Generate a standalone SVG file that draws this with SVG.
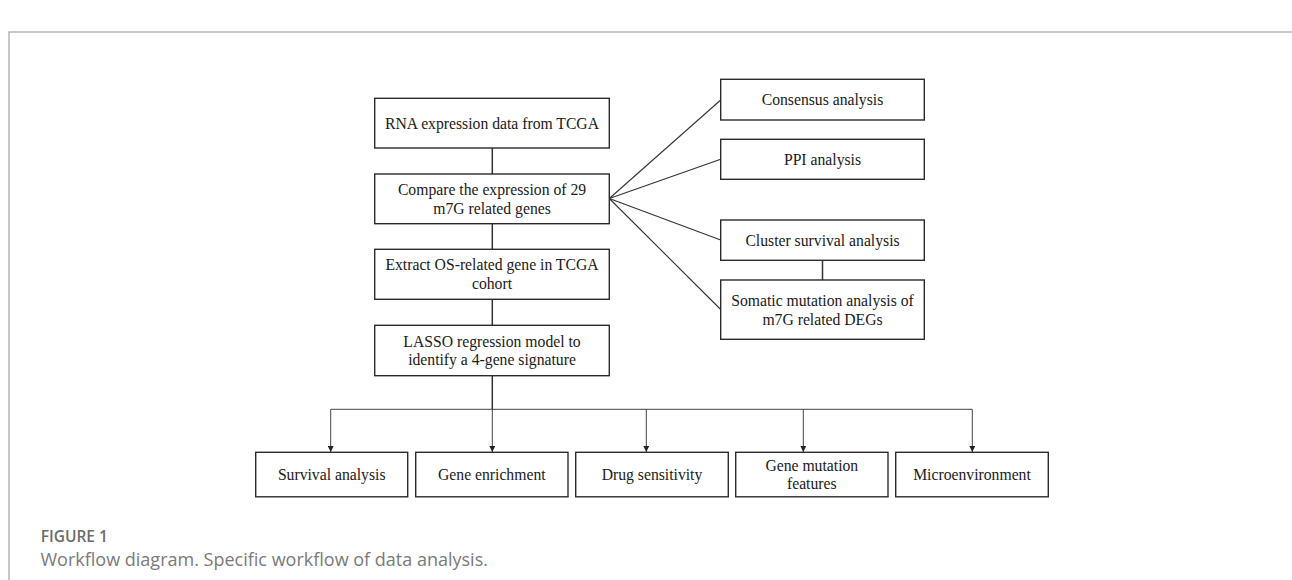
<svg xmlns="http://www.w3.org/2000/svg" width="1292" height="580" viewBox="0 0 1292 580">
<style>
.frame{stroke:#b5b5b5;stroke-width:1.5;fill:none}
.box{fill:#fff;stroke:#2b2b2b;stroke-width:1.4}
.t{font-family:"Liberation Serif","Times New Roman",serif;font-size:15.7px;fill:#1a1a1a;text-anchor:middle}
.c{stroke:#333;stroke-width:1.1;fill:none}
.trunk{stroke:#333;stroke-width:1.5;fill:none}
.arr{stroke:#444;stroke-width:1;fill:none}
.cap1{font-family:"Open Sans","Noto Sans",sans-serif;font-size:15.5px;font-weight:600;fill:#6b6b6b}
.cap2{font-family:"Open Sans","Noto Sans",sans-serif;font-size:18px;fill:#7a7a7a}
</style>
<defs>
<marker id="ah" viewBox="0 0 10 10" refX="10" refY="5" markerWidth="6" markerHeight="6" markerUnits="userSpaceOnUse" orient="auto">
<path d="M0,0 L10,5 L0,10 Z" fill="#222"/>
</marker>
</defs>
<path class="frame" d="M9,580 V32 H1292"/>

<g id="connectors">
<line class="trunk" x1="492.3" y1="148" x2="492.3" y2="174"/>
<line class="trunk" x1="492.3" y1="223.7" x2="492.3" y2="249.3"/>
<line class="trunk" x1="492.3" y1="299.3" x2="492.3" y2="325.3"/>
<line class="trunk" x1="492.3" y1="375.7" x2="492.3" y2="409.3"/>
<line class="c" x1="609.3" y1="198.5" x2="720.7" y2="100"/>
<line class="c" x1="609.3" y1="198.5" x2="720.7" y2="159.3"/>
<line class="c" x1="609.3" y1="198.5" x2="720.7" y2="240"/>
<line class="c" x1="609.3" y1="198.5" x2="720.7" y2="309.5"/>
<line class="trunk" x1="822.5" y1="260.3" x2="822.5" y2="280"/>
<line class="arr" x1="330.7" y1="409.3" x2="972.3" y2="409.3"/>
<line class="arr" x1="330.7" y1="409.3" x2="330.7" y2="452" marker-end="url(#ah)"/>
<line class="arr" x1="492.3" y1="409.3" x2="492.3" y2="452" marker-end="url(#ah)"/>
<line class="arr" x1="646.3" y1="409.3" x2="646.3" y2="452" marker-end="url(#ah)"/>
<line class="arr" x1="803.3" y1="409.3" x2="803.3" y2="452" marker-end="url(#ah)"/>
<line class="arr" x1="972.3" y1="409.3" x2="972.3" y2="452" marker-end="url(#ah)"/>
</g>

<g id="rna">
<rect class="box" x="374.7" y="98.3" width="234.6" height="49.7"/>
<text class="t" x="492" y="128.6">RNA expression data from TCGA</text>
</g>
<g id="compare">
<rect class="box" x="374.7" y="174" width="234.6" height="49.7"/>
<text class="t" x="492" y="195.3">Compare the expression of 29</text>
<text class="t" x="492" y="213.8">m7G related genes</text>
</g>
<g id="extract">
<rect class="box" x="374.7" y="249.3" width="234.6" height="50"/>
<text class="t" x="492" y="270.4">Extract OS-related gene in TCGA</text>
<text class="t" x="492" y="288.9">cohort</text>
</g>
<g id="lasso">
<rect class="box" x="374.7" y="325.3" width="234.6" height="50.4"/>
<text class="t" x="492" y="346.7">LASSO regression model to</text>
<text class="t" x="492" y="365.2">identify a 4-gene signature</text>
</g>

<g id="consensus">
<rect class="box" x="720.7" y="79.3" width="203.6" height="40.7"/>
<text class="t" x="822.5" y="105">Consensus analysis</text>
</g>
<g id="ppi">
<rect class="box" x="720.7" y="139.3" width="203.6" height="40"/>
<text class="t" x="822.5" y="164.8">PPI analysis</text>
</g>
<g id="cluster">
<rect class="box" x="720.7" y="220" width="203.6" height="40.3"/>
<text class="t" x="822.5" y="245.6">Cluster survival analysis</text>
</g>
<g id="somatic">
<rect class="box" x="720.7" y="280" width="203.6" height="59.3"/>
<text class="t" x="822.5" y="306.4">Somatic mutation analysis of</text>
<text class="t" x="822.5" y="324.9">m7G related DEGs</text>
</g>

<g id="survival">
<rect class="box" x="255.7" y="452.3" width="152" height="44.5"/>
<text class="t" x="331.7" y="480">Survival analysis</text>
</g>
<g id="enrichment">
<rect class="box" x="415.7" y="452.3" width="152.3" height="44.5"/>
<text class="t" x="491.8" y="480">Gene enrichment</text>
</g>
<g id="drug">
<rect class="box" x="575.7" y="452.3" width="152.6" height="44.5"/>
<text class="t" x="652" y="480">Drug sensitivity</text>
</g>
<g id="mutation">
<rect class="box" x="735.7" y="452.3" width="152.3" height="44.5"/>
<text class="t" x="811.8" y="470.6">Gene mutation</text>
<text class="t" x="811.8" y="489.1">features</text>
</g>
<g id="micro">
<rect class="box" x="895.7" y="452.3" width="152.6" height="44.5"/>
<text class="t" x="972" y="480">Microenvironment</text>
</g>

<text class="cap1" x="40.7" y="542">FIGURE 1</text>
<text class="cap2" x="40.5" y="566">Workflow diagram. Specific workflow of data analysis.</text>
</svg>
